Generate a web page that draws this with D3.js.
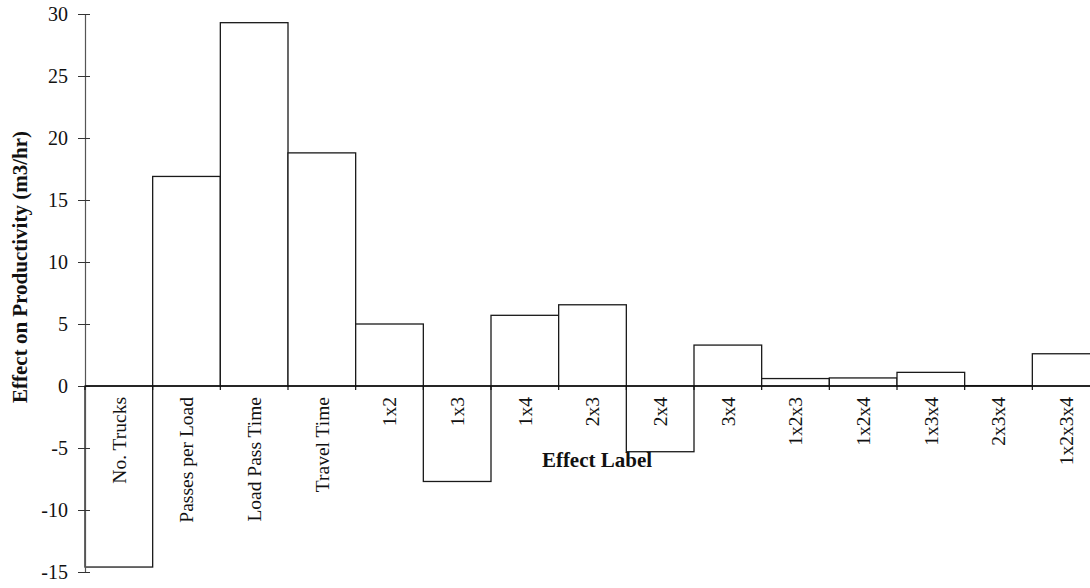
<!DOCTYPE html>
<html>
<head>
<meta charset="utf-8">
<script src="https://cdn.jsdelivr.net/npm/d3@7"></script>
<style>
  body { margin: 0; background: #fff; }
  svg { display: block; font-family: "Liberation Serif", "Times New Roman", serif; }
</style>
</head>
<body>
<div id="chart"></div>
<script>
const effects = ['No. Trucks', 'Passes per Load', 'Load Pass Time', 'Travel Time',
    '1x2', '1x3', '1x4', '2x3', '2x4', '3x4', '1x2x3', '1x2x4', '1x3x4', '2x3x4', '1x2x3x4']
const values = [-14.6, 16.9, 29.3, 18.8, 5.0, -7.7, 5.7, 6.55, -5.3, 3.3, 0.6, 0.65, 1.1, 0.03, 2.6]
const yTicks = [30, 25, 20, 15, 10, 5, 0, -5, -10, -15]

const width = 1090, height = 588
const svg = d3.select('#chart').append('svg')
    .attr('width', width)
    .attr('height', height)

const x = d3.scaleBand()
    .domain(effects)
    .range([85, 1100])
    .padding(0)

const y = d3.scaleLinear()
    .domain([-15, 30])
    .range([572, 14])

// bars
svg.append('g')
    .selectAll('rect')
    .data(effects.map((e, i) => ({ label: e, value: values[i] })))
    .join('rect')
    .attr('x', d => x(d.label))
    .attr('width', x.bandwidth())
    .attr('y', d => y(Math.max(0, d.value)))
    .attr('height', d => Math.abs(y(d.value) - y(0)))
    .attr('fill', '#fff')
    .attr('stroke', '#1a1a1a')
    .attr('stroke-width', 1.3)

// y axis
const yAxis = svg.append('g')
    .attr('transform', `translate(85,0)`)
    .call(d3.axisLeft(y).tickValues(yTicks).tickSize(7).tickPadding(10).tickFormat(d => String(d)))
yAxis.select('.domain').attr('stroke', '#555').attr('stroke-width', 1.2)
yAxis.selectAll('.tick line').attr('x2', 5).attr('x1', -7).attr('stroke', '#333')
yAxis.selectAll('.tick text')
    .attr('font-family', 'Liberation Serif, serif')
    .attr('font-size', 20)
    .attr('fill', '#111')

// zero line with ticks at band edges
const edges = effects.map(e => x(e))
svg.append('line')
    .attr('x1', 85).attr('x2', width)
    .attr('y1', y(0)).attr('y2', y(0))
    .attr('stroke', '#111').attr('stroke-width', 1.6)
svg.append('g')
    .selectAll('line')
    .data(edges)
    .join('line')
    .attr('x1', d => d).attr('x2', d => d)
    .attr('y1', y(0)).attr('y2', y(0) + 4)
    .attr('stroke', '#111').attr('stroke-width', 1.2)

// effect labels
svg.append('g')
    .selectAll('text')
    .data(effects)
    .join('text')
    .attr('transform', d => `translate(${x(d) + x.bandwidth() / 2},${y(0) + 11}) rotate(-90)`)
    .attr('text-anchor', 'end')
    .attr('dy', '0.35em')
    .attr('font-size', 19.5)
    .attr('fill', '#111')
    .text(d => d)

// axis titles
svg.append('text')
    .attr('transform', `translate(20,267) rotate(-90)`)
    .attr('text-anchor', 'middle')
    .attr('dy', '0.35em')
    .attr('font-size', 21)
    .attr('font-weight', 'bold')
    .attr('fill', '#111')
    .text('Effect on Productivity (m3/hr)')

svg.append('text')
    .attr('x', 597)
    .attr('y', 460)
    .attr('text-anchor', 'middle')
    .attr('dy', '0.35em')
    .attr('font-size', 21)
    .attr('font-weight', 'bold')
    .attr('fill', '#111')
    .text('Effect Label')
</script>
</body>
</html>
